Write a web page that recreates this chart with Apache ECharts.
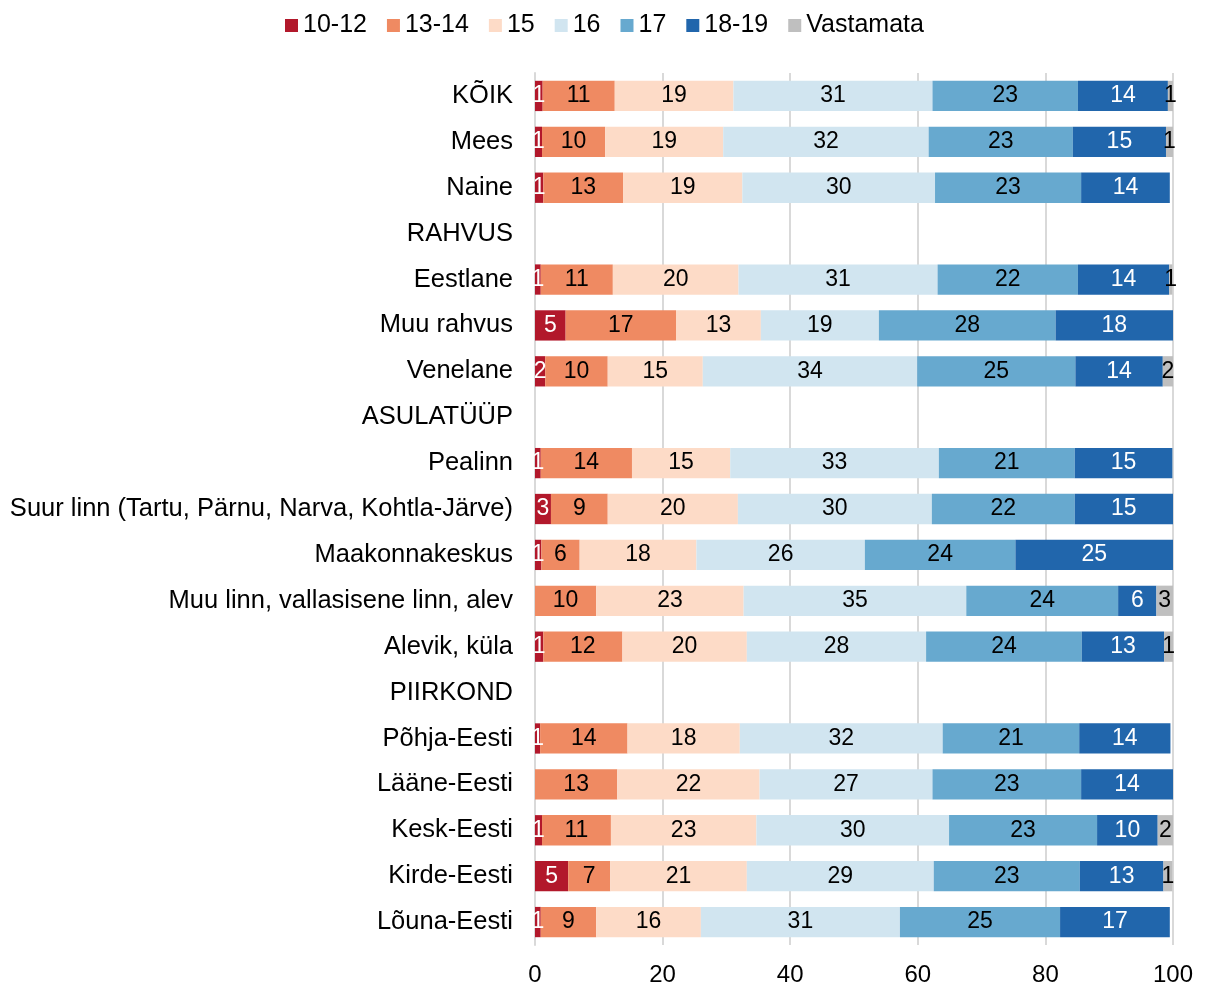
<!DOCTYPE html>
<html>
<head>
<meta charset="utf-8">
<script src="https://cdn.jsdelivr.net/npm/echarts@6/dist/echarts.min.js"></script>
<style>
  html, body { margin: 0; padding: 0; background: #fff; }
  #chart { width: 1208px; height: 983px; }
</style>
</head>
<body>
<div id="chart"></div>
<script>
var categories = ['KÕIK', 'Mees', 'Naine', 'RAHVUS', 'Eestlane', 'Muu rahvus', 'Venelane',
    'ASULATÜÜP', 'Pealinn', 'Suur linn (Tartu, Pärnu, Narva, Kohtla-Järve)', 'Maakonnakeskus',
    'Muu linn, vallasisene linn, alev', 'Alevik, küla', 'PIIRKOND', 'Põhja-Eesti', 'Lääne-Eesti',
    'Kesk-Eesti', 'Kirde-Eesti', 'Lõuna-Eesti'];

var seriesNames = ['10-12', '13-14', '15', '16', '17', '18-19', 'Vastamata'];

// väärtused loetud pildilt (protsent)
var v1012 = [1.2, 1.1, 1.3, null, 0.9, 4.8, 1.6, null, 0.9, 2.5, 1.0, null, 1.3, null, 0.8, null, 1.1, 5.2, 0.9];
var v1314 = [11.3, 9.9, 12.5, null, 11.3, 17.3, 9.8, null, 14.3, 8.9, 6.0, 9.6, 12.4, null, 13.7, 12.9, 10.8, 6.6, 8.7];
var v15 = [18.6, 18.5, 18.7, null, 19.7, 13.3, 14.9, null, 15.4, 20.4, 18.3, 23.1, 19.5, null, 17.6, 22.3, 22.8, 21.4, 16.4];
var v16 = [31.2, 32.2, 30.2, null, 31.2, 18.5, 33.6, null, 32.7, 30.4, 26.4, 34.9, 28.1, null, 31.8, 27.1, 30.2, 29.3, 31.2];
var v17 = [22.8, 22.6, 22.9, null, 22.0, 27.7, 24.8, null, 21.3, 22.4, 23.6, 23.8, 24.4, null, 21.4, 23.3, 23.2, 22.9, 25.1];
var v1819 = [14.1, 14.6, 13.9, null, 14.3, 18.4, 13.7, null, 15.3, 15.4, 24.7, 6.0, 12.9, null, 14.3, 14.4, 9.5, 13.1, 17.2];
var vVast = [0.8, 1.1, null, null, 0.5, null, 1.6, null, null, null, null, 2.6, 1.4, null, null, null, 2.4, 1.4, null];

var values = [v1012, v1314, v15, v16, v17, v1819, vVast];
var colors = ['#B2182B', '#EF8A62', '#FDDBC7', '#D1E5F0', '#67A9CF', '#2166AC', '#BFBFBF'];
var labelColors = ['#fff', '#000', '#000', '#000', '#000', '#fff', '#000'];

var fontFamily = 'Liberation Sans, Arial, sans-serif';

var myChart = echarts.init(document.getElementById('chart'));

var series = seriesNames.map(function (name, i) {
    return {
        name: name,
        type: 'bar',
        stack: 'total',
        barCategoryGap: '34%',
        data: values[i],
        itemStyle: { color: colors[i] },
        label: {
            show: true,
            position: 'inside',
            color: labelColors[i],
            fontSize: 23,
            fontFamily: fontFamily,
            formatter: function (p) {
                if (p.value == null) return '';
                return Math.round(p.value);
            }
        }
    };
});

var option = {
    animation: false,
    backgroundColor: '#fff',
    legend: {
        top: 8,
        left: 280,
        itemWidth: 13,
        itemHeight: 13,
        itemGap: 20,
        icon: 'rect',
        textStyle: { fontSize: 25, color: '#000', fontFamily: fontFamily },
        data: seriesNames
    },
    grid: {
        left: 535,
        right: 35,
        top: 73,
        bottom: 38,
        containLabel: false,
        outerBoundsMode: 'none'
    },
    xAxis: {
        type: 'value',
        min: 0,
        max: 100,
        interval: 20,
        axisLine: { show: false },
        axisTick: { show: false },
        splitLine: { lineStyle: { color: '#D9D9D9', width: 2 } },
        axisLabel: { fontSize: 24, color: '#000', fontFamily: fontFamily, margin: 18 }
    },
    yAxis: {
        type: 'category',
        inverse: true,
        data: categories,
        axisLine: { show: true, lineStyle: { color: '#D9D9D9', width: 2 } },
        axisTick: { show: false },
        axisLabel: { fontSize: 25.5, color: '#000', fontFamily: fontFamily, margin: 22 }
    },
    series: series
};

myChart.setOption(option, true);
</script>
</body>
</html>
